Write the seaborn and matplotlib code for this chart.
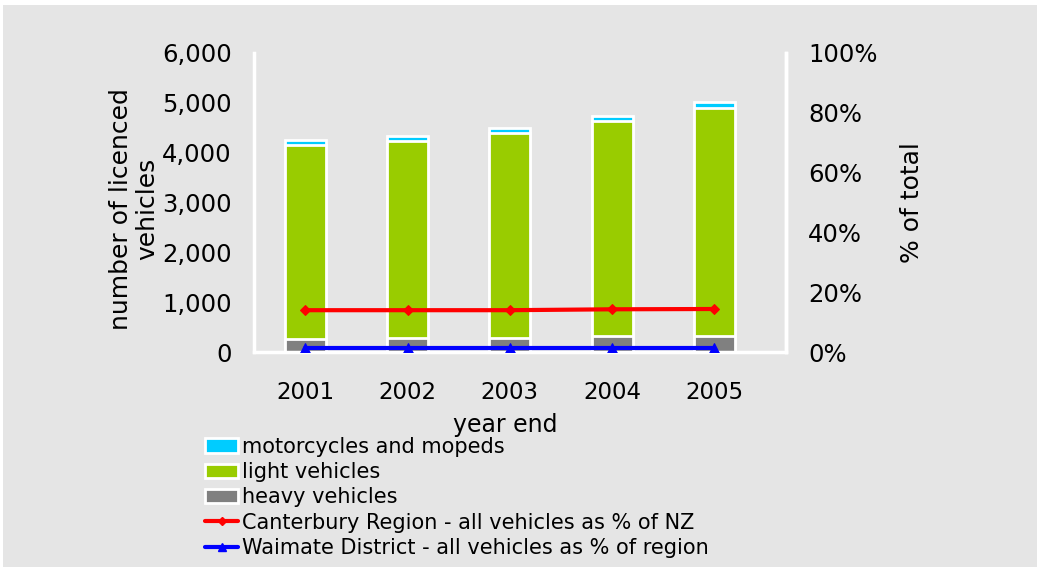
"""
Licenced vehicles in Waimate District, 2001-2005
"""

import numpy as np
import pandas as pd
import matplotlib.pyplot as plt
import matplotlib.patches as mpatches
import matplotlib.lines as mlines
from matplotlib.ticker import FuncFormatter
import seaborn as sns

# Data
years = ['2001', '2002', '2003', '2004', '2005']
heavy = [260, 285, 285, 330, 330]
light = [3890, 3940, 4110, 4310, 4560]
moto = [100, 100, 95, 90, 130]
canterbury_pct = [14.0, 14.0, 14.0, 14.3, 14.4]
waimate_pct = [1.5, 1.5, 1.5, 1.5, 1.5]

BG = '#e5e5e5'
C_MOTO = '#00ccff'
C_LIGHT = '#99cc00'
C_HEAVY = '#808080'

sns.set_style("white")
plt.rcParams['font.family'] = ['DejaVu Sans']
plt.rcParams['font.size'] = 15
plt.rcParams['text.color'] = 'black'
plt.rcParams['axes.labelcolor'] = 'black'
plt.rcParams['xtick.color'] = 'black'
plt.rcParams['ytick.color'] = 'black'


def main():
    df = pd.DataFrame({'year': years, 'heavy': heavy, 'light': light, 'moto': moto})
    df['hl'] = df['heavy'] + df['light']
    df['total'] = df['hl'] + df['moto']

    fig = plt.figure(figsize=(10.37, 5.67), dpi=100, facecolor='white')
    fig.patches.append(mpatches.Rectangle((3 / 1037, 0), 1, 1 - 5 / 567,
                                          transform=fig.transFigure,
                                          facecolor=BG, edgecolor='none', zorder=-10))
    ax = fig.add_axes([0.245, 0.379, 0.513, 0.528])
    ax.set_facecolor(BG)

    # stacked bars drawn as overlapping cumulative totals
    for col, color in [('total', C_MOTO), ('hl', C_LIGHT), ('heavy', C_HEAVY)]:
        sns.barplot(data=df, x='year', y=col, color=color, width=0.4,
                    edgecolor='white', linewidth=2, saturation=1, ax=ax)

    ax.set_ylim(0, 6000)
    ax.set_xlim(-0.5, 4.7)
    ax.set_yticks(range(0, 6001, 1000))
    ax.yaxis.set_major_formatter(FuncFormatter(lambda v, p: f'{int(v):,}'))
    ax.set_xlabel('year end', fontsize=17)
    ax.xaxis.set_label_coords(0.472, -0.205)
    ax.set_ylabel('number of licenced\nvehicles', fontsize=18, linespacing=1.1)
    ax.yaxis.set_label_coords(-0.178, 0.478)
    ax.tick_params(axis='y', length=0, pad=16, labelsize=17.5)
    ax.tick_params(axis='x', length=0, pad=21, labelsize=16.5)
    for s in ['left', 'bottom', 'right']:
        ax.spines[s].set_color('white')
        ax.spines[s].set_linewidth(2.5)
    ax.spines['top'].set_visible(False)

    ax2 = ax.twinx()
    pos = np.arange(len(years))
    sns.lineplot(x=pos, y=canterbury_pct, color='red', linewidth=3,
                 marker='D', markersize=5, markeredgecolor='red', ax=ax2)
    sns.lineplot(x=pos, y=waimate_pct, color='blue', linewidth=3,
                 marker='^', markersize=7, markeredgecolor='blue', ax=ax2)
    ax2.set_ylim(0, 100)
    ax2.set_yticks(range(0, 101, 20))
    ax2.yaxis.set_major_formatter(FuncFormatter(lambda v, p: f'{int(v)}%'))
    ax2.set_ylabel('% of total', fontsize=18, labelpad=16)
    ax2.tick_params(axis='y', length=0, pad=16, labelsize=17.5)
    for s in ['left', 'bottom', 'top']:
        ax2.spines[s].set_visible(False)
    ax2.spines['right'].set_color('white')
    ax2.spines['right'].set_linewidth(2.5)

    handles = [
        mpatches.Patch(facecolor=C_MOTO, edgecolor='white', linewidth=2, label='motorcycles and mopeds'),
        mpatches.Patch(facecolor=C_LIGHT, edgecolor='white', linewidth=2, label='light vehicles'),
        mpatches.Patch(facecolor=C_HEAVY, edgecolor='white', linewidth=2, label='heavy vehicles'),
        mlines.Line2D([], [], color='red', linewidth=3, marker='D', markersize=4,
                      label='Canterbury Region - all vehicles as % of NZ'),
        mlines.Line2D([], [], color='blue', linewidth=3, marker='^', markersize=6,
                      label='Waimate District - all vehicles as % of region'),
    ]
    fig.legend(handles=handles, loc='upper left', bbox_to_anchor=(205 / 1037, 1 - 437 / 567),
               frameon=False, handlelength=1.6, handletextpad=0.2, labelspacing=0.25,
               borderaxespad=0, borderpad=0, fontsize=15)

    fig.savefig('out.png', dpi=100, facecolor=fig.get_facecolor())
    plt.close(fig)


if __name__ == "__main__":
    main()
